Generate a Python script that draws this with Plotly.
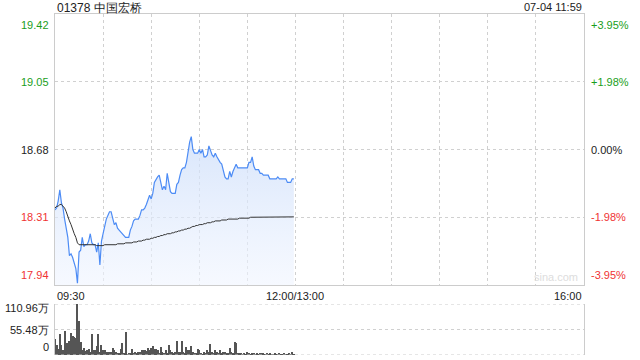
import plotly.graph_objects as go

title = "01378 中国宏桥"
stamp = "07-04 11:59"
prev_close = 18.68

price = [18.35, 18.36, 18.40, 18.46, 18.39, 18.36, 18.30, 18.25, 18.20, 18.10,
         18.11, 18.09, 18.06, 18.03, 17.95, 18.12, 18.13, 18.20, 18.15, 18.16,
         18.16, 18.18, 18.22, 18.17, 18.16, 18.16, 18.12, 18.17, 18.05, 18.18,
         18.22, 18.27, 18.30, 18.32, 18.34, 18.34, 18.30, 18.27, 18.28, 18.25,
         18.24, 18.23, 18.22, 18.21, 18.20, 18.20, 18.20, 18.24, 18.26, 18.29,
         18.30, 18.30, 18.30, 18.32, 18.35, 18.35, 18.36, 18.38, 18.40, 18.43,
         18.41, 18.44, 18.50, 18.52, 18.53, 18.54, 18.50, 18.46, 18.48, 18.46,
         18.55, 18.50, 18.45, 18.44, 18.44, 18.44, 18.49, 18.50, 18.54, 18.57,
         18.58, 18.58, 18.61, 18.68, 18.72, 18.75, 18.68, 18.66, 18.66, 18.66,
         18.68, 18.66, 18.68, 18.64, 18.64, 18.65, 18.70, 18.67, 18.65, 18.64,
         18.66, 18.64, 18.62, 18.61, 18.60, 18.57, 18.53, 18.52, 18.52, 18.56,
         18.53, 18.56, 18.58, 18.60, 18.58, 18.58, 18.58, 18.58, 18.58, 18.58,
         18.58, 18.61, 18.61, 18.64, 18.59, 18.57, 18.57, 18.57, 18.55, 18.55,
         18.54, 18.54, 18.54, 18.54, 18.52, 18.52, 18.52, 18.52, 18.52, 18.53,
         18.52, 18.52, 18.52, 18.52, 18.52, 18.50, 18.50, 18.50, 18.52, 18.52]

avg_price = [18.36, 18.37, 18.37, 18.38, 18.38, 18.37, 18.36, 18.34, 18.31, 18.29,
             18.27, 18.24, 18.22, 18.20, 18.17, 18.16, 18.16, 18.16, 18.16, 18.16,
             18.16, 18.16, 18.16, 18.16, 18.16, 18.16, 18.155, 18.155, 18.155, 18.155,
             18.155, 18.16, 18.16, 18.16, 18.16, 18.16, 18.16, 18.16, 18.16, 18.165,
             18.165, 18.165, 18.165, 18.165, 18.17, 18.17, 18.17, 18.17, 18.17, 18.175,
             18.175, 18.175, 18.18, 18.18, 18.18, 18.185, 18.185, 18.19, 18.19, 18.19,
             18.195, 18.195, 18.20, 18.20, 18.205, 18.205, 18.21, 18.21, 18.215, 18.215,
             18.22, 18.22, 18.22, 18.225, 18.225, 18.23, 18.23, 18.235, 18.235, 18.24,
             18.24, 18.245, 18.245, 18.25, 18.25, 18.255, 18.26, 18.26, 18.265, 18.265,
             18.27, 18.27, 18.27, 18.275, 18.275, 18.28, 18.28, 18.28, 18.285, 18.285,
             18.29, 18.29, 18.29, 18.29, 18.295, 18.295, 18.295, 18.295, 18.30, 18.30,
             18.30, 18.30, 18.30, 18.30, 18.30, 18.305, 18.305, 18.305, 18.305, 18.305,
             18.305, 18.305, 18.31, 18.31, 18.31, 18.31, 18.31, 18.31, 18.31, 18.31,
             18.31, 18.31, 18.31, 18.31, 18.31, 18.31, 18.31, 18.31, 18.31, 18.31,
             18.31, 18.31, 18.31, 18.31, 18.31, 18.31, 18.31, 18.31, 18.312, 18.312]

volume_wan = [34.5, 21, 12, 46, 21, 10, 52, 26, 26, 31,
              47, 41, 40, 37.5, 111, 75, 28, 11, 15, 8,
              11, 13.5, 6, 46, 10, 10, 19, 46, 6, 21,
              11, 10, 6, 7.5, 7.5, 7.5, 15, 10, 7.5, 4,
              5, 13.5, 26, 3, 49, 2, 3, 4, 12, 4,
              6, 5, 6, 6, 10, 11, 11, 9, 15, 10,
              15, 19, 13.5, 13.5, 11, 5, 17, 6, 4, 10,
              5, 21, 10, 7.5, 4, 6, 30, 6, 6, 30,
              6, 3, 17, 10, 11, 19, 6, 4, 3, 13.5,
              10, 4, 2, 6, 4, 11, 6, 23, 6, 4,
              11, 6, 4, 10, 4, 6, 6, 3, 3, 15,
              6, 3, 28.5, 26, 4, 4, 3, 2, 4, 2,
              7.5, 3, 2, 4, 3, 2, 3, 2, 4, 3,
              4, 2, 3, 2, 3, 2, 2, 3, 2, 2,
              3, 2, 2, 3, 2, 2, 3, 2, 7.5, 2]

minutes = list(range(len(price)))  # minutes since 09:30

price_ticks = [19.42, 19.05, 18.68, 18.31, 17.94]
price_labels = ["19.42", "19.05", "18.68", "18.31", "17.94"]
pct_labels = ["+3.95%", "+1.98%", "0.00%", "-1.98%", "-3.95%"]
vol_ticks = [110.96, 55.48, 0]
vol_labels = ["110.96万", "55.48万", "0"]
time_ticks = [0, 150, 330]
time_labels = ["09:30", "12:00/13:00", "16:00"]
session_len = 330

GREEN = "#1a9e1a"
RED = "#f03333"
BLACK = "#222222"
FONT = "Liberation Sans, Arial, sans-serif"

X0, X1 = 55 / 640, 584 / 640
P_BOT, P_TOP = (360 - 285) / 360, (360 - 14) / 360
V_BOT, V_TOP = (360 - 355) / 360, (360 - 304) / 360

fig = go.Figure()

fig.add_trace(go.Scatter(
    x=minutes, y=price, mode="lines",
    line=dict(color="#4d8cf5", width=1.2),
    fill="tozeroy",
    fillgradient=dict(type="vertical", start=price_ticks[-1], stop=max(price),
                      colorscale=[[0, "rgba(240,245,255,0.6)"], [1, "rgba(205,222,250,0.75)"]]),
    xaxis="x", yaxis="y", hoverinfo="skip"))

fig.add_trace(go.Scatter(
    x=minutes, y=avg_price, mode="lines",
    line=dict(color="#333333", width=1),
    xaxis="x", yaxis="y", hoverinfo="skip"))

fig.add_trace(go.Bar(
    x=minutes, y=volume_wan, width=0.65,
    marker=dict(color="#555555", line=dict(width=0)),
    xaxis="x2", yaxis="y2", hoverinfo="skip"))

annotations = []
for v, t in zip(price_ticks, price_labels):
    col = GREEN if v > prev_close + 1e-9 else (RED if v < prev_close - 1e-9 else BLACK)
    ya = "top" if v == price_ticks[0] else ("bottom" if v == price_ticks[-1] else "middle")
    yshift = -3 if ya == "top" else (2 if ya == "bottom" else 0)
    annotations.append(dict(x=X0 - 0.006, xref="paper", y=v, yref="y", text=t,
                            xanchor="right", yanchor=ya, yshift=yshift, showarrow=False,
                            font=dict(color=col, size=11, family=FONT)))
for v, t in zip(price_ticks, pct_labels):
    col = GREEN if v > prev_close + 1e-9 else (RED if v < prev_close - 1e-9 else BLACK)
    ya = "top" if v == price_ticks[0] else ("bottom" if v == price_ticks[-1] else "middle")
    yshift = -3 if ya == "top" else (2 if ya == "bottom" else 0)
    annotations.append(dict(x=X1 + 0.008, xref="paper", y=v, yref="y", text=t,
                            xanchor="left", yanchor=ya, yshift=yshift, showarrow=False,
                            font=dict(color=col, size=11, family=FONT)))
for v, t in zip(vol_ticks, vol_labels):
    ya = "top" if v == vol_ticks[0] else ("bottom" if v == vol_ticks[-1] else "middle")
    yshift = 4 if ya == "top" else (0 if ya == "bottom" else 0)
    annotations.append(dict(x=X0 - 0.006, xref="paper", y=v, yref="y2", text=t,
                            xanchor="right", yanchor=ya, yshift=yshift, showarrow=False,
                            font=dict(color=BLACK, size=11, family=FONT)))
for v, t in zip(time_ticks, time_labels):
    xa = "left" if v == time_ticks[0] else ("right" if v == time_ticks[-1] else "center")
    annotations.append(dict(x=v, xref="x", y=P_BOT - 0.008, yref="paper", text=t,
                            xanchor=xa, yanchor="top", showarrow=False,
                            font=dict(color=BLACK, size=11, family=FONT)))
annotations.append(dict(x=X0, xref="paper", y=1.0, yref="paper", text=title,
                        xanchor="left", yanchor="top", yshift=1, showarrow=False,
                        font=dict(color=BLACK, size=12, family=FONT)))
annotations.append(dict(x=X1, xref="paper", y=1.0, yref="paper", text=stamp,
                        xanchor="right", yanchor="top", yshift=1, showarrow=False,
                        font=dict(color=BLACK, size=11, family=FONT)))
annotations.append(dict(x=X1 - 0.006, xref="paper", y=price_ticks[-1], yref="y", text="sina.com",
                        xanchor="right", yanchor="bottom", yshift=0, showarrow=False,
                        font=dict(color="#dddddd", size=11, family=FONT)))

shapes = [
    dict(type="line", xref="x2 domain", yref="y2", x0=0, x1=1, y0=vol_ticks[0], y1=vol_ticks[0],
         line=dict(color="#cccccc", width=1, dash="dot")),
    dict(type="line", xref="x2 domain", yref="y2", x0=0, x1=1, y0=vol_ticks[2], y1=vol_ticks[2],
         line=dict(color="#cccccc", width=1, dash="dot")),
]

fig.update_layout(
    width=640, height=360, margin=dict(l=0, r=0, t=0, b=0),
    paper_bgcolor="white", plot_bgcolor="white", showlegend=False,
    font=dict(family=FONT, size=11, color=BLACK),
    bargap=0,
    xaxis=dict(domain=[X0, X1], range=[0, session_len], tickvals=list(range(30, session_len, 30)),
               showgrid=True, gridcolor="#d0d0d0", griddash="dot", gridwidth=1,
               showticklabels=False, ticks="", zeroline=False,
               showline=True, mirror=True, linecolor="#cccccc", linewidth=1, fixedrange=True),
    yaxis=dict(domain=[P_BOT, P_TOP], range=[price_ticks[-1], price_ticks[0]],
               tickvals=price_ticks[1:-1], showgrid=True, gridcolor="#d0d0d0", griddash="dot",
               showticklabels=False, ticks="", zeroline=False,
               showline=True, mirror=True, linecolor="#cccccc", linewidth=1),
    xaxis2=dict(domain=[X0, X1], range=[0, session_len], anchor="y2", showgrid=False,
                showticklabels=False, ticks="", zeroline=False, showline=False),
    yaxis2=dict(domain=[V_BOT, V_TOP], range=[0, vol_ticks[0]], anchor="x2",
                tickvals=[vol_ticks[1]], showgrid=True, gridcolor="#d0d0d0", griddash="dot",
                showticklabels=False, ticks="", zeroline=False,
                showline=True, mirror=True, linecolor="#cccccc", linewidth=1),
    annotations=annotations, shapes=shapes,
)

fig.write_html("out.html")
